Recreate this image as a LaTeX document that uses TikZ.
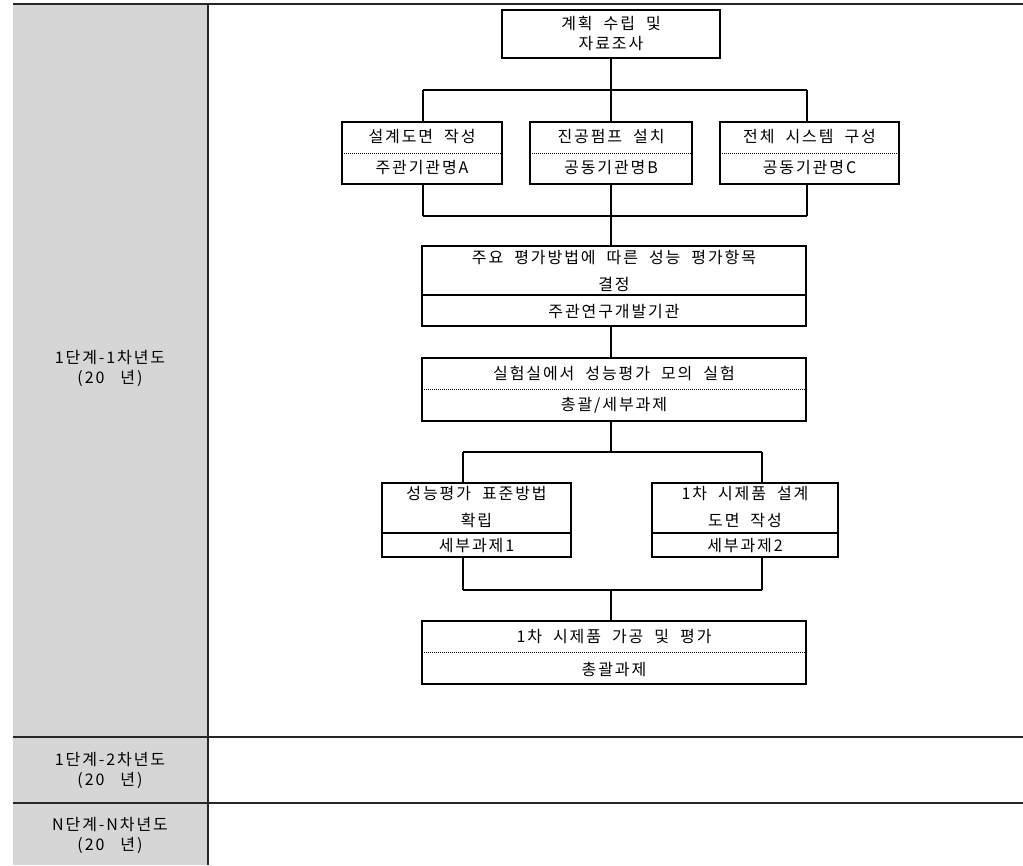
\documentclass[tikz,border=0pt]{standalone}
\usepackage{fontspec}
\setmainfont{Noto Sans CJK KR}[LetterSpace=12,WordSpace=2.0]
\begin{document}
\begin{tikzpicture}[x=1pt,y=-1pt,
  every node/.style={inner sep=0pt,outer sep=0pt},
  txt/.style={font=\fontsize{16}{20}\selectfont,text=black,align=center},
  txtwide/.style={txt,font=\fontsize{16}{27}\selectfont},
  frame/.style={draw=black,line width=1.3pt,fill=white},
  conn/.style={draw=black,line width=1.3pt},
  dotdiv/.style={draw=black,line width=0.9pt,dash pattern=on 0.9pt off 1.1pt},
  soliddiv/.style={draw=black,line width=1.1pt},
  grid/.style={draw=black!85,line width=1.8pt}]
\useasboundingbox (0,0) rectangle (1023,865);
% table
\fill[black!16] (13,4) rectangle (208,865);
\draw[grid] (13,4) -- (1023,4);
\draw[grid] (208,4) -- (208,865);
\draw[grid] (13,737) -- (1023,737);
\draw[grid] (13,803) -- (1023,803);
\node[txt] (r1) at (110,368) {1단계-1차년도\\(20\hspace{16pt}년)};
\node[txt] (r2) at (110,770) {1단계-2차년도\\(20\hspace{16pt}년)};
\node[txt] (r3) at (110,835) {N단계-N차년도\\(20\hspace{16pt}년)};
% boxes
\node[frame,minimum width=218pt,minimum height=48pt] (top) at (611,34) {};
\node[txt] (topt) at (611,33) {계획 수립 및\\자료조사};

\node[frame,minimum width=160pt,minimum height=62pt] (a) at (422,153) {};
\node[frame,minimum width=162pt,minimum height=62pt] (b) at (611,153) {};
\node[frame,minimum width=179pt,minimum height=62pt] (c) at (809.5,153) {};
\coordinate (dabc) at (0,153);
\draw[dotdiv] (a.west |- dabc) -- (a.east |- dabc);
\draw[dotdiv] (b.west |- dabc) -- (b.east |- dabc);
\draw[dotdiv] (c.west |- dabc) -- (c.east |- dabc);
\node[txt] (at1) at (422,137) {설계도면 작성};
\node[txt] (at2) at (422,168) {주관기관명A};
\node[txt] (bt1) at (611,137) {진공펌프 설치};
\node[txt] (bt2) at (611,168) {공동기관명B};
\node[txt] (ct1) at (809.5,137) {전체 시스템 구성};
\node[txt] (ct2) at (809.5,168) {공동기관명C};

\node[frame,minimum width=384pt,minimum height=80pt] (d) at (614,286) {};
\coordinate (dd) at (0,295);
\draw[soliddiv] (d.west |- dd) -- (d.east |- dd);
\node[txtwide] (dt1) at (614,271) {주요 평가방법에 따른 성능 평가항목\\결정};
\node[txt] (dt2) at (614,312) {주관연구개발기관};

\node[frame,minimum width=384pt,minimum height=63pt] (e) at (614,389.5) {};
\coordinate (de) at (0,389);
\draw[dotdiv] (e.west |- de) -- (e.east |- de);
\node[txt] (et1) at (614,373) {실험실에서 성능평가 모의 실험};
\node[txt] (et2) at (614,405) {총괄/세부과제};

\node[frame,minimum width=189pt,minimum height=74pt] (f) at (476.5,520) {};
\node[frame,minimum width=186pt,minimum height=74pt] (g) at (745,520) {};
\coordinate (dfg) at (0,533);
\draw[soliddiv] (f.west |- dfg) -- (f.east |- dfg);
\draw[soliddiv] (g.west |- dfg) -- (g.east |- dfg);
\node[txtwide] (ft1) at (476.5,507) {성능평가 표준방법\\확립};
\node[txt] (ft2) at (476.5,545) {세부과제1};
\node[txtwide] (gt1) at (745,507) {1차 시제품 설계\\도면 작성};
\node[txt] (gt2) at (745,545) {세부과제2};

\node[frame,minimum width=384pt,minimum height=63pt] (h) at (614,652.5) {};
\coordinate (dh) at (0,652);
\draw[dotdiv] (h.west |- dh) -- (h.east |- dh);
\node[txt] (ht1) at (614,637) {1차 시제품 가공 및 평가};
\node[txt] (ht2) at (614,669) {총괄과제};

% connectors
\coordinate (j1) at (611,90);
\coordinate (j1l) at (423,90);
\coordinate (j1r) at (807,90);
\coordinate (j2) at (611,216);
\coordinate (j2l) at (423,216);
\coordinate (j2r) at (807,216);
\draw[conn] (top.south) -- (j1);
\draw[conn] (j1l) -- (j1r);
\draw[conn] (j1l) -- (j1l |- a.north);
\draw[conn] (j1) -- (b.north);
\draw[conn] (j1r) -- (j1r |- c.north);
\draw[conn] (j2l |- a.south) -- (j2l);
\draw[conn] (b.south) -- (j2);
\draw[conn] (j2r |- c.south) -- (j2r);
\draw[conn] (j2l) -- (j2r);
\draw[conn] (j2) -- (j2 |- d.north);
\draw[conn] (j2 |- d.south) -- (j2 |- e.north);
\coordinate (j3) at (611,452);
\coordinate (j3l) at (463,452);
\coordinate (j3r) at (762,452);
\draw[conn] (j3 |- e.south) -- (j3);
\draw[conn] (j3l) -- (j3r);
\draw[conn] (j3l) -- (j3l |- f.north);
\draw[conn] (j3r) -- (j3r |- g.north);
\coordinate (j4) at (611,590);
\coordinate (j4l) at (463,590);
\coordinate (j4r) at (762,590);
\draw[conn] (j4l |- f.south) -- (j4l);
\draw[conn] (j4r |- g.south) -- (j4r);
\draw[conn] (j4l) -- (j4r);
\draw[conn] (j4) -- (j4 |- h.north);
\end{tikzpicture}
\end{document}
